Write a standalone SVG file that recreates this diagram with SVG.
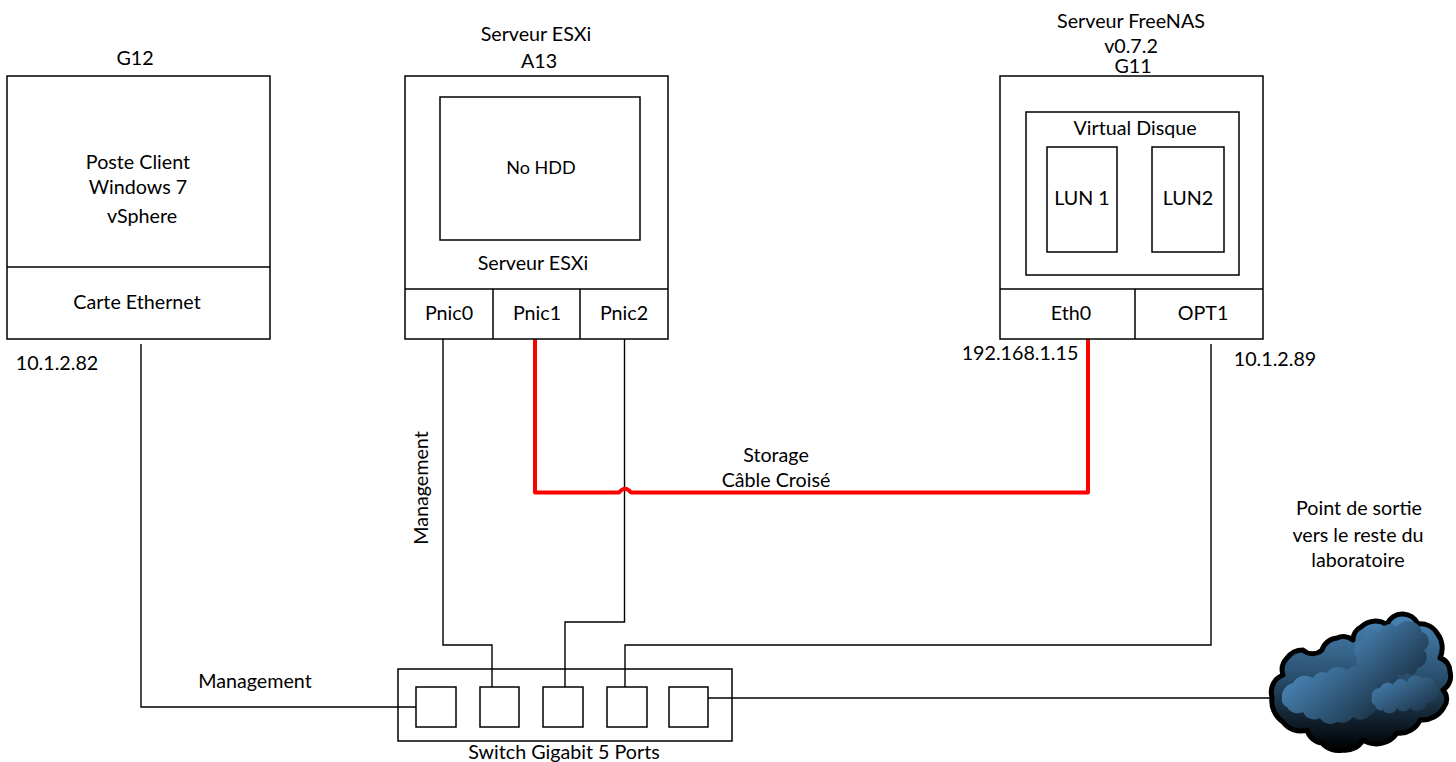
<svg xmlns="http://www.w3.org/2000/svg" width="1456" height="762" viewBox="0 0 1456 762">
<style>
.b{fill:none;stroke:#000;stroke-width:1.5}
.w{fill:#fff;stroke:#000;stroke-width:1.5}
.c{fill:none;stroke:#000;stroke-width:1.4}
.r{fill:none;stroke:#f00;stroke-width:4;stroke-linejoin:round}
text{font-family:"Lato","Open Sans",sans-serif;font-size:19.7px;fill:#000;text-anchor:middle}
</style>
<defs>
<linearGradient id="sky" x1="0" y1="0" x2="0" y2="1"><stop offset="0" stop-color="#4a86b8"/><stop offset="0.45" stop-color="#2a506f"/><stop offset="1" stop-color="#000"/></linearGradient>
<linearGradient id="puff" x1="0" y1="0" x2="1" y2="0.7"><stop offset="0" stop-color="#4f90c6"/><stop offset="1" stop-color="#1f3a50"/></linearGradient>
<linearGradient id="puff2" x1="0" y1="0" x2="1" y2="0.9"><stop offset="0" stop-color="#4a88bc"/><stop offset="1" stop-color="#1a2e40"/></linearGradient>
</defs>
<g id="connectors">
<path class="c" d="M141 344V707H416"/>
<path class="c" d="M443 339V645H492V688"/>
<path class="c" d="M624.500 339V622H565V688"/>
<path class="c" d="M1211 344V645H625V688"/>
<path class="c" d="M708 698H1271"/>
<path class="r" d="M535 339V492.500H619Q625 485 631 492.500H1088V339"/>
</g>
<g id="g12">
<rect class="b" x="7" y="76" width="263" height="263"/>
<path class="b" d="M7 267H270"/>
<text x="135" y="65">G12</text>
<text x="138" y="169">Poste Client</text>
<text x="138" y="194">Windows 7</text>
<text x="142" y="223">vSphere</text>
<text x="137" y="309">Carte Ethernet</text>
<text x="57" y="370">10.1.2.82</text>
</g>
<g id="esxi">
<rect class="b" x="405" y="76" width="263" height="263"/>
<path class="b" d="M405 289H668M493 289V339M580 289V339"/>
<rect class="b" x="440" y="97" width="200" height="143"/>
<text x="536" y="41">Serveur ESXi</text>
<text x="539" y="68">A13</text>
<text x="541" y="174" style="font-size:18px">No HDD</text>
<text x="533" y="270">Serveur ESXi</text>
<text x="449" y="320">Pnic0</text>
<text x="537" y="320">Pnic1</text>
<text x="624" y="320">Pnic2</text>
</g>
<g id="freenas">
<rect class="b" x="1000" y="76" width="263" height="263"/>
<path class="b" d="M1000 289H1263M1135 289V339"/>
<rect class="b" x="1026" y="112" width="213" height="163"/>
<rect class="b" x="1047" y="147" width="70" height="105"/>
<rect class="b" x="1152" y="147" width="72" height="105"/>
<text x="1131" y="28">Serveur FreeNAS</text>
<text x="1131" y="53">v0.7.2</text>
<text x="1133" y="73">G11</text>
<text x="1135" y="135">Virtual Disque</text>
<text x="1082" y="205">LUN 1</text>
<text x="1188" y="205">LUN2</text>
<text x="1071" y="320">Eth0</text>
<text x="1203" y="320">OPT1</text>
<text x="1020" y="360">192.168.1.15</text>
<text x="1275" y="366">10.1.2.89</text>
</g>
<g id="switch">
<rect class="b" x="398" y="669" width="334" height="72"/>
<rect class="w" x="416" y="687" width="40" height="40"/>
<rect class="w" x="480" y="687" width="39" height="40"/>
<rect class="w" x="543" y="687" width="40" height="40"/>
<rect class="w" x="607" y="687" width="40" height="40"/>
<rect class="w" x="669" y="687" width="39" height="40"/>
<text x="564" y="759">Switch Gigabit 5 Ports</text>
</g>
<g id="labels">
<text x="255" y="688">Management</text>
<text transform="translate(428 488) rotate(-90)">Management</text>
<text x="776" y="462">Storage</text>
<text x="776" y="487">Câble Croisé</text>
<text x="1359" y="515">Point de sortie</text>
<text x="1358" y="542">vers le reste du</text>
<text x="1358" y="567">laboratoire</text>
</g>
<g id="cloud">
<path fill="url(#sky)" stroke="#000" stroke-width="5" stroke-linejoin="round" d="M1272 697A18 18 0 0 1 1283 675A17 17 0 0 1 1287 658A20 20 0 0 1 1303 650A14 14 0 0 0 1322 650A17 17 0 0 1 1337 638A15 15 0 0 1 1353 640A14 14 0 0 1 1361 627A20 20 0 0 1 1387 625A16 16 0 0 1 1403 614A17 17 0 0 1 1418 624A20 20 0 0 1 1437 633A24 24 0 0 1 1440 658A14 14 0 0 1 1450 672A16 16 0 0 1 1443 690A13 13 0 0 1 1444 707A25 25 0 0 1 1420 720A22 22 0 0 1 1397 733A25 25 0 0 1 1363 740A20 20 0 0 1 1343 750A22 22 0 0 1 1322 743A18 18 0 0 1 1307 730A22 22 0 0 1 1283 722A26 26 0 0 1 1272 697Z"/>
<path fill="url(#puff)" d="M1282 698A14 14 0 0 1 1293 683A14 14 0 0 1 1313 678A11 11 0 0 1 1327 673A14 14 0 0 1 1347 670A12 12 0 0 1 1363 668A14 14 0 0 1 1375 680A24 24 0 0 1 1378 703A12 12 0 0 1 1370 715A12 12 0 0 1 1353 717A14 14 0 0 1 1337 722A12 12 0 0 1 1320 718A12 12 0 0 1 1303 712A12 12 0 0 1 1287 707A8 8 0 0 1 1282 698Z"/>
<path fill="url(#puff2)" d="M1372 698A8 8 0 0 1 1380 688A8 8 0 0 1 1393 685A8 8 0 0 1 1407 682A9 9 0 0 1 1422 678A9 9 0 0 1 1435 685A6 6 0 0 1 1438 693A10 10 0 0 1 1427 703A10 10 0 0 1 1410 708A8 8 0 0 1 1397 708A8 8 0 0 1 1383 710A6 6 0 0 1 1375 705A5 5 0 0 1 1372 698Z"/>
<path fill="url(#puff2)" d="M1357 657A10 10 0 0 1 1363 640A10 10 0 0 1 1380 633A10 10 0 0 1 1397 627A14 14 0 0 1 1422 632A10 10 0 0 1 1424 650A11 11 0 0 1 1417 668A6 6 0 0 1 1407 673A6 6 0 0 1 1397 673A6 6 0 0 1 1387 680A8 8 0 0 1 1373 677A7 7 0 0 1 1363 668A8 8 0 0 1 1357 657Z"/>
</g>
</svg>
